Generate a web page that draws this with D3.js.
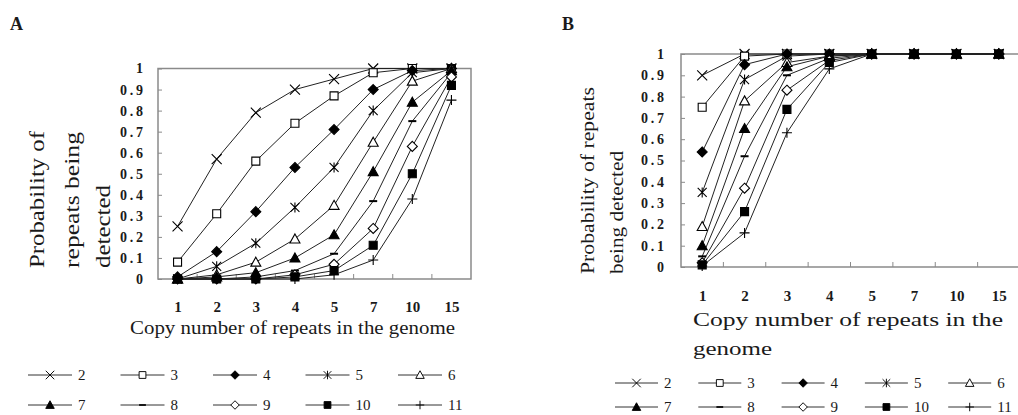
<!DOCTYPE html>
<html>
<head>
<meta charset="utf-8">
<script src="https://cdn.jsdelivr.net/npm/d3@7"></script>
<style>
body { margin: 0; background: #fff; }
text { font-family: "Liberation Serif", "Times New Roman", serif; fill: #1a1a1a; }
</style>
</head>
<body>
<svg id="chart" width="1018" height="415"></svg>
<script>
var copyNumbers = ["1","2","3","4","5","7","10","15"];
var seriesNames = ["2","3","4","5","6","7","8","9","10","11"];
var markerTypes = ["cross","square","diamondFill","star","triangle","triangleFill","dash","diamond","squareFill","plus"];
var yTicks = [0,0.1,0.2,0.3,0.4,0.5,0.6,0.7,0.8,0.9,1];
var yTickLabels = ["0","0.1","0.2","0.3","0.4","0.5","0.6","0.7","0.8","0.9","1"];

// panel A, one row per series (2..11), one value per copy number
var valuesA = [
  [0.25,0.57,0.79,0.90,0.95,1.00,1.00,1.00],
  [0.08,0.31,0.56,0.74,0.87,0.98,1.00,1.00],
  [0.01,0.13,0.32,0.53,0.71,0.90,0.99,1.00],
  [0.00,0.06,0.17,0.34,0.53,0.80,0.98,1.00],
  [0.00,0.02,0.08,0.19,0.35,0.65,0.94,1.00],
  [0.00,0.01,0.03,0.10,0.21,0.51,0.84,0.99],
  [0.00,0.00,0.01,0.04,0.12,0.37,0.75,0.98],
  [0.00,0.00,0.00,0.02,0.07,0.24,0.63,0.96],
  [0.00,0.00,0.00,0.01,0.04,0.16,0.50,0.92],
  [0.00,0.00,0.00,0.00,0.02,0.09,0.38,0.85]
];
// panel B
var valuesB = [
  [0.90,1.00,1.00,1.00,1.00,1.00,1.00,1.00],
  [0.75,0.99,1.00,1.00,1.00,1.00,1.00,1.00],
  [0.54,0.95,1.00,1.00,1.00,1.00,1.00,1.00],
  [0.35,0.88,0.99,1.00,1.00,1.00,1.00,1.00],
  [0.19,0.78,0.96,0.99,1.00,1.00,1.00,1.00],
  [0.10,0.65,0.94,0.99,1.00,1.00,1.00,1.00],
  [0.05,0.52,0.90,0.98,1.00,1.00,1.00,1.00],
  [0.02,0.37,0.83,0.97,1.00,1.00,1.00,1.00],
  [0.01,0.26,0.74,0.96,1.00,1.00,1.00,1.00],
  [0.005,0.16,0.63,0.93,1.00,1.00,1.00,1.00]
];

var svg = d3.select("#chart");

function markerPath(type) {
  switch (type) {
    case "cross": return "M-5,-5L5,5M-5,5L5,-5";
    case "square": case "squareFill": return "M-4,-4H4V4H-4Z";
    case "diamond": case "diamondFill": return "M0,-5L5,0L0,5L-5,0Z";
    case "star": return "M-4.5,-4.5L4.5,4.5M-4.5,4.5L4.5,-4.5M0,-5V5";
    case "triangle": case "triangleFill": return "M0,-5L5,4L-5,4Z";
    case "dash": return "M-4,0H4";
    case "plus": return "M-5,0H5M0,-5V5";
  }
}
function drawMarker(g, type, k) {
  var filled = /Fill$/.test(type);
  var open = type == "square" || type == "diamond" || type == "triangle";
  g.append("path")
    .attr("d", markerPath(type))
    .attr("transform", "scale(" + (k || 1) + ")")
    .attr("fill", filled ? "#000" : (open ? "#fff" : "none"))
    .attr("stroke", "#000")
    .attr("stroke-width", type == "dash" ? 2 : 1.1);
}

function drawPanel(cfg) {
  var g = svg.append("g");
  var x = d3.scalePoint().domain(copyNumbers).range([cfg.left, cfg.right]).padding(0.5);
  var xb = d3.scaleBand().domain(copyNumbers).range([cfg.left, cfg.right]);
  var y = d3.scaleLinear().domain([0, 1]).range([cfg.bottom, cfg.top]);

  g.append("rect")
    .attr("x", cfg.left).attr("y", cfg.top)
    .attr("width", cfg.right - cfg.left).attr("height", cfg.bottom - cfg.top)
    .attr("fill", "none").attr("stroke", "#8a8a8a").attr("stroke-width", 1.5);

  var ya = g.append("g")
    .attr("transform", "translate(" + cfg.left + ",0)")
    .call(d3.axisLeft(y).tickValues(yTicks)
      .tickFormat(function(d, i) { return yTickLabels[i]; })
      .tickSize(-4).tickPadding(cfg.yPad));
  ya.select(".domain").remove();
  ya.selectAll("line").attr("stroke", "#8a8a8a");
  ya.selectAll("text")
    .style("font-family", "Liberation Serif").style("font-size", "14px").style("font-weight", "bold")
    .attr("fill", "#1a1a1a")
    .each(function(d, i) { if (yTickLabels[i].length > 1) d3.select(this).attr("textLength", 23); });

  var xa = g.append("g")
    .attr("transform", "translate(0," + cfg.bottom + ")")
    .call(d3.axisBottom(x).tickSize(0).tickPadding(cfg.xPad));
  xa.select(".domain").remove();
  xa.selectAll("text")
    .style("font-family", "Liberation Serif").style("font-size", "15px").style("font-weight", "bold")
    .attr("fill", "#1a1a1a");

  // inner ticks at category boundaries
  g.selectAll("line.xt").data(copyNumbers.slice(1)).enter().append("line")
    .attr("x1", function(d) { return xb(d); }).attr("x2", function(d) { return xb(d); })
    .attr("y1", cfg.bottom).attr("y2", cfg.bottom - 5)
    .attr("stroke", "#8a8a8a");

  var line = d3.line().x(function(d, i) { return x(copyNumbers[i]); }).y(function(d) { return y(d); });
  g.selectAll("path.series").data(cfg.values).enter().append("path")
    .attr("d", line).attr("fill", "none").attr("stroke", "#222").attr("stroke-width", 1);

  cfg.values.forEach(function(vals, s) {
    vals.forEach(function(v, i) {
      var m = g.append("g").attr("transform", "translate(" + x(copyNumbers[i]) + "," + y(v) + ")");
      drawMarker(m, markerTypes[s], 1);
    });
  });

  // panel letter
  g.append("text").attr("x", cfg.letterX).attr("y", 30)
    .style("font-size", "18px").style("font-weight", "bold").text(cfg.letter);

  // y title lines
  cfg.yTitle.forEach(function(t) {
    g.append("text")
      .attr("transform", "translate(" + t.x + "," + cfg.yTitleBase + ") rotate(-90)")
      .attr("textLength", t.len).attr("lengthAdjust", "spacingAndGlyphs")
      .style("font-size", cfg.yTitleSize + "px").text(t.text);
  });
  // x title lines
  cfg.xTitle.forEach(function(t) {
    g.append("text").attr("x", t.x).attr("y", t.y)
      .attr("textLength", t.len).attr("lengthAdjust", "spacingAndGlyphs")
      .style("font-size", cfg.xTitleSize + "px").text(t.text);
  });

  // legend
  seriesNames.forEach(function(name, s) {
    var col = s % 5, row = Math.floor(s / 5);
    var x0 = cfg.legX + col * cfg.legStep, y0 = cfg.legY[row];
    var lg = g.append("g").attr("transform", "translate(" + x0 + "," + y0 + ")");
    lg.append("line").attr("x1", 0).attr("x2", cfg.legLen).attr("stroke", "#333").attr("stroke-width", 1);
    drawMarker(lg.append("g").attr("transform", "translate(" + cfg.legLen / 2 + ",0)"), markerTypes[s], 0.85);
    lg.append("text").attr("x", cfg.legLen + 6).attr("dy", "0.33em")
      .style("font-size", "15px").text(name);
  });
}

drawPanel({
  letter: "A", letterX: 10,
  left: 158, right: 471, top: 68.5, bottom: 279,
  yPad: 15, xPad: 22, values: valuesA,
  yTitleSize: 20, yTitleBase: 268,
  yTitle: [
    { text: "Probability of", x: 44, len: 137 },
    { text: "repeats being", x: 79, len: 136 },
    { text: "detected", x: 110, len: 83 }
  ],
  xTitleSize: 18,
  xTitle: [{ text: "Copy number of repeats in the genome", x: 130, y: 334, len: 325 }],
  legX: 28, legStep: 92.5, legLen: 44, legY: [375, 405]
});

drawPanel({
  letter: "B", letterX: 562,
  left: 681, right: 1020, top: 54, bottom: 267,
  yPad: 17, xPad: 23, values: valuesB,
  yTitleSize: 18, yTitleBase: 274,
  yTitle: [
    { text: "Probability of repeats", x: 594, len: 187 },
    { text: "being detected", x: 623, len: 123 }
  ],
  xTitleSize: 19,
  xTitle: [
    { text: "Copy number of repeats in the", x: 693, y: 326, len: 310 },
    { text: "genome", x: 693, y: 355, len: 79 }
  ],
  legX: 615, legStep: 83.3, legLen: 43, legY: [383, 407]
});
</script>
</body>
</html>
